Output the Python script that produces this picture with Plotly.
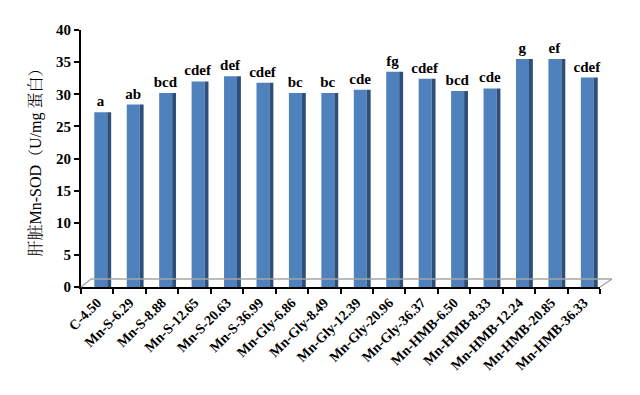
import plotly.graph_objects as go

categories = ["C-4.50", "Mn-S-6.29", "Mn-S-8.88", "Mn-S-12.65", "Mn-S-20.63", "Mn-S-36.99",
              "Mn-Gly-6.86", "Mn-Gly-8.49", "Mn-Gly-12.39", "Mn-Gly-20.96", "Mn-Gly-36.37",
              "Mn-HMB-6.50", "Mn-HMB-8.33", "Mn-HMB-12.24", "Mn-HMB-20.85", "Mn-HMB-36.33"]
sod_values = [27.2, 28.4, 30.2, 32.0, 32.8, 31.8, 30.2, 30.2, 30.7, 33.5, 32.4, 30.5, 30.9, 35.5, 35.5, 32.6]
sig_letters = ["a", "ab", "bcd", "cdef", "def", "cdef", "bc", "bc", "cde", "fg", "cdef",
               "bcd", "cde", "g", "ef", "cdef"]
y_ticks = [0, 5, 10, 15, 20, 25, 30, 35, 40]

serif = "Liberation Serif, Times New Roman, Noto Serif CJK SC, Noto Sans CJK SC, serif"

fig = go.Figure()
# front face
fig.add_trace(go.Bar(
    x=categories, y=sod_values, offset=-0.09, width=0.40,
    marker=dict(color="#4F81BD", line=dict(width=0)),
    text=sig_letters, textposition="outside", cliponaxis=False,
    constraintext="none",
    textfont=dict(family=serif, size=15, color="black", weight="bold"),
    showlegend=False,
))
# dark side face
fig.add_trace(go.Bar(
    x=categories, y=sod_values, offset=0.31, width=0.12,
    marker=dict(color="#2E4F7A", line=dict(width=0)),
    showlegend=False, hoverinfo="skip",
))

# floor outline (decoration), in paper coords
L, T, W, H = 73, 22, 519, 257
def px(xp):
    return (xp - 81) / W
def py(yp):
    return (287 - yp) / H

floor_color = "#A6A6A6"
fig.add_shape(type="line", xref="paper", yref="paper", x0=px(81), y0=py(287), x1=px(91), y1=py(279),
              line=dict(color=floor_color, width=1.5))
fig.add_shape(type="line", xref="paper", yref="paper", x0=px(91), y0=py(279), x1=px(612), y1=py(279),
              line=dict(color=floor_color, width=1.5))
fig.add_shape(type="line", xref="paper", yref="paper", x0=px(612), y0=py(279), x1=px(600), y1=py(287),
              line=dict(color=floor_color, width=1.5))

fig.update_layout(
    width=640, height=395,
    margin=dict(l=L, r=640 - L - W, t=T, b=395 - T - H, autoexpand=False),
    paper_bgcolor="white", plot_bgcolor="white",
    barmode="overlay",
    font=dict(family=serif, size=14, color="black"),
    xaxis=dict(
        type="category", tickangle=-45, tickson="boundaries", automargin=False,
        ticks="outside", ticklen=5, tickwidth=2, tickcolor="black",
        showline=True, linecolor="black", linewidth=2,
        tickfont=dict(family=serif, size=14, color="black", weight="bold"),
        showgrid=False, range=[-0.5, 15.5],
    ),
    yaxis=dict(
        range=[0, 40], tickvals=y_ticks, ticks="outside", ticklen=5, tickwidth=2, automargin=False,
        tickcolor="black", showline=True, linecolor="black", linewidth=2,
        showgrid=False, zeroline=False,
        tickfont=dict(family=serif, size=15, color="black", weight="bold"),
        title=dict(text="肝脏Mn-SOD（U/mg 蛋白）", standoff=10,
                   font=dict(family=serif, size=16, color="black")),
    ),
)

fig.write_html("out.html")
